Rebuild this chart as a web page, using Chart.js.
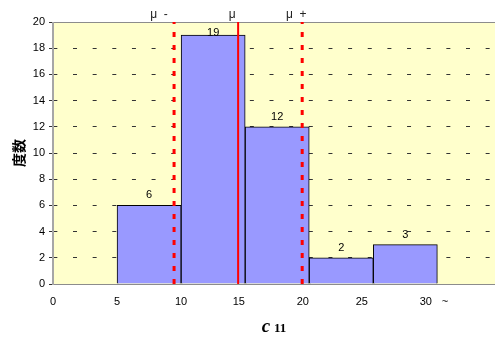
<!DOCTYPE html>
<html>
<head>
<meta charset="utf-8">
<script src="https://cdn.jsdelivr.net/npm/chart.js@4"></script>
<style>
  html, body { margin: 0; padding: 0; background: #fff; }
  #wrap { width: 495px; height: 340px; }
</style>
</head>
<body>
<div id="wrap"><canvas id="histChart"></canvas></div>
<script>
  // Histogram bins (centre of each 5-wide bin) and counts
  const binCenters = [7.5, 12.5, 17.5, 22.5, 27.5];
  const counts = [6, 19, 12, 2, 3];

  // Mean and +/- sigma markers
  const markerValues = [9.45, 14.45, 19.45];
  const markerLabels = ['μ  -', 'μ', 'μ  +'];
  const markerLabelShift = [-15, -6, -6];

  // x tick labels, placed where the original has them
  const xTickValues = [0, 5, 10, 14.5, 19.5, 24.1, 29.1, 30.6];
  const xTickLabels = ['0', '5', '10', '15', '20', '25', '30', '~'];

  const X_MAX = 34.5;
  const Y_MAX = 20;

  // Pale yellow plot background
  const plotBackground = {
    id: 'plotBackground',
    beforeDraw(chart) {
      const { ctx, chartArea: a } = chart;
      ctx.save();
      ctx.fillStyle = '#FFFFCC';
      ctx.fillRect(a.left, a.top, a.right - a.left, a.bottom - a.top);
      ctx.restore();
    }
  };

  // Grey frame: top, left and bottom edges of the plot
  const plotFrame = {
    id: 'plotFrame',
    beforeDatasetsDraw(chart) {
      const { ctx, chartArea: a } = chart;
      ctx.save();
      ctx.strokeStyle = '#8c8c8c';
      ctx.lineWidth = 1;
      ctx.beginPath();
      ctx.moveTo(a.left, a.top + 0.5);
      ctx.lineTo(a.right, a.top + 0.5);
      ctx.moveTo(a.left, a.bottom + 0.5);
      ctx.lineTo(a.right, a.bottom + 0.5);
      ctx.stroke();
      ctx.lineWidth = 2;
      ctx.strokeStyle = '#a6a6a6';
      ctx.beginPath();
      ctx.moveTo(a.left, a.top);
      ctx.lineTo(a.left, a.bottom + 1);
      ctx.stroke();
      ctx.restore();
    }
  };

  // Count labels, mu labels and the x title
  const annotations = {
    id: 'annotations',
    afterDatasetsDraw(chart) {
      const { ctx, chartArea: a } = chart;
      const xScale = chart.scales.x;
      ctx.save();
      ctx.fillStyle = '#000';
      ctx.textAlign = 'center';
      ctx.textBaseline = 'alphabetic';

      // counts above bars
      ctx.font = '11px "Liberation Sans", Arial, sans-serif';
      const barMeta = chart.getDatasetMeta(3);
      barMeta.data.forEach((bar, i) => {
        const y = Math.max(bar.y - 7, a.top + 13.5);
        ctx.fillText(String(counts[i]), bar.x, y);
      });

      // mu labels above the plot
      ctx.font = '12px "Liberation Sans", Arial, sans-serif';
      ctx.fillStyle = '#222';
      markerValues.forEach((v, i) => {
        const x = xScale.getPixelForValue(v) + markerLabelShift[i];
        ctx.fillText(markerLabels[i], x, 18);
      });

      // x title: italic c followed by 11
      ctx.fillStyle = '#000';
      ctx.textAlign = 'left';
      const cFont = 'bold italic 19px "Liberation Serif", "Times New Roman", serif';
      const nFont = 'bold 13px "Liberation Serif", "Times New Roman", serif';
      ctx.font = cFont;
      const cW = ctx.measureText('c').width;
      ctx.font = nFont;
      const nW = ctx.measureText('11').width;
      const gap = 4;
      const startX = (a.left + a.right) / 2 - (cW + gap + nW) / 2;
      ctx.font = cFont;
      ctx.fillText('c', startX, 332);
      ctx.font = nFont;
      ctx.fillText('11', startX + cW + gap, 332);
      ctx.restore();
    }
  };

  function vline(value, dashed) {
    return {
      type: 'line',
      data: [{ x: value, y: 0 }, { x: value, y: Y_MAX }],
      borderColor: '#FF0000',
      borderWidth: dashed ? 3 : 2,
      borderDash: dashed ? [5, 8] : [],
      pointRadius: 0,
      fill: false,
      order: 1,
      xAxisID: 'x',
      yAxisID: 'y'
    };
  }

  const ctx = document.getElementById('histChart').getContext('2d');
  new Chart(ctx, {
    type: 'bar',
    data: {
      datasets: [
        vline(markerValues[0], true),
        vline(markerValues[1], false),
        vline(markerValues[2], true),
        {
          type: 'bar',
          data: binCenters.map((x, i) => ({ x: x, y: counts[i] })),
          backgroundColor: '#9999FF',
          borderColor: '#000',
          borderWidth: 1,
          barPercentage: 1,
          categoryPercentage: 1,
          order: 2,
          xAxisID: 'x',
          yAxisID: 'y'
        }
      ]
    },
    options: {
      responsive: true,
      maintainAspectRatio: false,
      animation: false,
      layout: { padding: { top: 22, right: 0, bottom: 0, left: 0 } },
      plugins: {
        legend: { display: false },
        tooltip: { enabled: false }
      },
      scales: {
        x: {
          type: 'linear',
          min: 0,
          max: X_MAX,
          offset: false,
          display: false,
          grid: { offset: false },
          ticks: { stepSize: 5, includeBounds: false }
        },
        xt: {
          type: 'linear',
          position: 'bottom',
          min: 0,
          max: X_MAX,
          offset: false,
          afterBuildTicks: axis => {
            axis.ticks = xTickValues.map(v => ({ value: v }));
          },
          afterFit: axis => { axis.height = 56; },
          ticks: {
            autoSkip: false,
            maxRotation: 0,
            padding: 11,
            color: '#000',
            font: { family: '"Liberation Sans", Arial, sans-serif', size: 11 },
            callback: (value, index) => xTickLabels[index]
          },
          grid: { display: false, drawTicks: false, offset: false },
          border: { display: false }
        },
        y: {
          min: 0,
          max: Y_MAX,
          afterFit: axis => { axis.width = 53; },
          ticks: {
            stepSize: 2,
            padding: 4,
            color: '#000',
            font: { family: '"Liberation Sans", Arial, sans-serif', size: 11 }
          },
          grid: {
            color: '#333',
            lineWidth: 1,
            tickLength: 4,
            tickColor: '#333',
            tickBorderDash: []
          },
          border: {
            display: false,
            dash: [4, 15.65],
            dashOffset: 19.3
          },
          title: {
            display: true,
            text: '度数',
            color: '#000',
            padding: { top: 10, bottom: 0 },
            font: { family: '"Noto Sans CJK JP", sans-serif', size: 14, weight: 'bold' }
          }
        }
      }
    },
    plugins: [plotBackground, plotFrame, annotations]
  });
</script>
</body>
</html>
